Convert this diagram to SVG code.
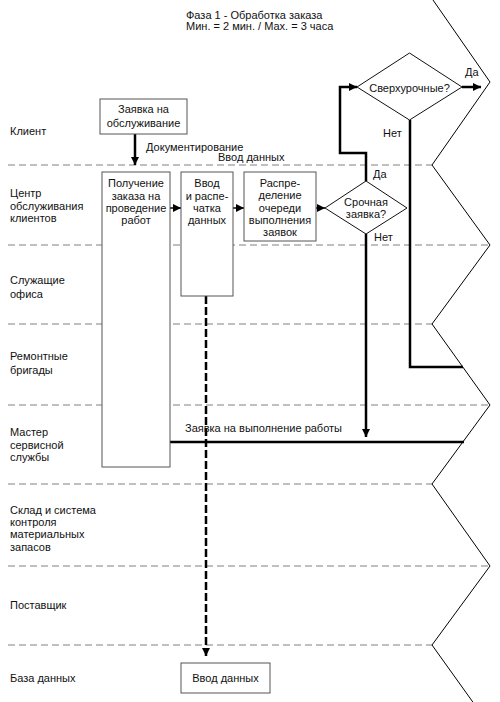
<svg xmlns="http://www.w3.org/2000/svg" width="500" height="702" viewBox="0 0 500 702">
<style>
text{font-family:"Liberation Sans",Arial,sans-serif;font-size:11px;fill:#111}
.c{text-anchor:middle}
.lane{stroke:#808080;stroke-width:1;stroke-dasharray:7 4;fill:none}
.box{fill:#fff;stroke:#555;stroke-width:1}
.dia{fill:#fff;stroke:#111;stroke-width:1}
.thick{stroke:#000;stroke-width:2.5;fill:none}
.thin{stroke:#000;stroke-width:1.5;fill:none}
.dash{stroke:#000;stroke-width:2.5;fill:none;stroke-dasharray:8 3}
.zig{stroke:#000;stroke-width:1;fill:none}
</style>
<defs>
<marker id="ah" viewBox="0 0 10 10" refX="10" refY="5" markerWidth="8" markerHeight="9" markerUnits="userSpaceOnUse" orient="auto">
<path d="M0,0 L10,5 L0,10 z" fill="#000"/>
</marker>
</defs>
<rect width="500" height="702" fill="#fff"/>
<g id="header">
<text x="186" y="19">Фаза 1 - Обработка заказа</text>
<text x="186" y="30">Мин. = 2 мин. / Мах. = 3 часа</text>
</g>
<g id="lanes">
<line class="lane" x1="8" y1="165" x2="432" y2="165"/>
<line class="lane" x1="8" y1="245" x2="490" y2="245"/>
<line class="lane" x1="8" y1="324" x2="432" y2="324"/>
<line class="lane" x1="8" y1="405" x2="490" y2="405"/>
<line class="lane" x1="8" y1="484" x2="432" y2="484"/>
<line class="lane" x1="8" y1="566" x2="490" y2="566"/>
<line class="lane" x1="8" y1="645" x2="432" y2="645"/>
<polyline class="zig" points="433,0 490,82 432,165 490,245 432,324 490,405 432,484 490,566 432,645 490,726"/>
</g>
<g id="lane-labels">
<text x="10" y="135">Клиент</text>
<text x="10" y="197">Центр</text>
<text x="10" y="210">обслуживания</text>
<text x="10" y="222">клиентов</text>
<text x="10" y="284">Служащие</text>
<text x="10" y="298">офиса</text>
<text x="10" y="360">Ремонтные</text>
<text x="10" y="374">бригады</text>
<text x="10" y="436">Мастер</text>
<text x="10" y="449">сервисной</text>
<text x="10" y="461">службы</text>
<text x="10" y="514">Склад и система</text>
<text x="10" y="526">контроля</text>
<text x="10" y="538">материальных</text>
<text x="10" y="551">запасов</text>
<text x="10" y="609">Поставщик</text>
<text x="10" y="682">База данных</text>
</g>
<g id="connectors">
<line class="thick" x1="135" y1="134" x2="135" y2="165" marker-end="url(#ah)"/>
<line class="thin" x1="170" y1="208" x2="181" y2="208" marker-end="url(#ah)"/>
<line class="thin" x1="233" y1="208" x2="244" y2="208" marker-end="url(#ah)"/>
<line class="thin" x1="316" y1="208" x2="325" y2="208" marker-end="url(#ah)"/>
<polyline class="thick" points="366,181 366,153 340,153 340,87 357,87" marker-end="url(#ah)"/>
<line class="thick" x1="462" y1="87" x2="481" y2="87" marker-end="url(#ah)"/>
<polyline class="thick" points="410,120 410,367 463,367"/>
<line class="thick" x1="366" y1="234" x2="366" y2="437" marker-end="url(#ah)"/>
<line class="thick" x1="170" y1="442" x2="464" y2="442"/>
<line class="dash" x1="206" y1="296" x2="206" y2="656" marker-end="url(#ah)"/>
</g>
<g id="n-request">
<rect class="box" x="100" y="99" width="87" height="35"/>
<text class="c" x="143.5" y="113">Заявка на</text>
<text class="c" x="143.5" y="127">обслуживание</text>
</g>
<g id="conn-labels">
<text x="146" y="151">Документирование</text>
<text x="218" y="161">Ввод данных</text>
<text x="185" y="432">Заявка на выполнение работы</text>
</g>
<g id="n-receive">
<rect class="box" x="102" y="172" width="68" height="295"/>
<text class="c" x="136" y="187">Получение</text>
<text class="c" x="136" y="200">заказа на</text>
<text class="c" x="136" y="212">проведение</text>
<text class="c" x="136" y="224">работ</text>
</g>
<g id="n-input">
<rect class="box" x="181" y="172" width="52" height="124"/>
<text class="c" x="207" y="187">Ввод</text>
<text class="c" x="207" y="200">и распе-</text>
<text class="c" x="207" y="212">чатка</text>
<text class="c" x="207" y="224">данных</text>
</g>
<g id="n-queue">
<rect class="box" x="244" y="172" width="72" height="69"/>
<text class="c" x="280" y="187">Распре-</text>
<text class="c" x="280" y="199">деление</text>
<text class="c" x="280" y="212">очереди</text>
<text class="c" x="280" y="224">выполнения</text>
<text class="c" x="280" y="236">заявок</text>
</g>
<g id="n-urgent">
<polygon class="dia" points="325,208 366,181 407,208 366,234"/>
<text class="c" x="366" y="206">Срочная</text>
<text class="c" x="366" y="218">заявка?</text>
<text x="373" y="178">Да</text>
<text x="374" y="241">Нет</text>
</g>
<g id="n-overtime">
<polygon class="dia" points="357,87 409.5,53 462,87 409.5,120"/>
<text class="c" x="409.5" y="92">Сверхурочные?</text>
<text x="465" y="76">Да</text>
<text x="383" y="137">Нет</text>
</g>
<g id="n-db">
<rect class="box" x="181" y="663" width="89" height="30"/>
<text class="c" x="225.5" y="682">Ввод данных</text>
</g>
</svg>
